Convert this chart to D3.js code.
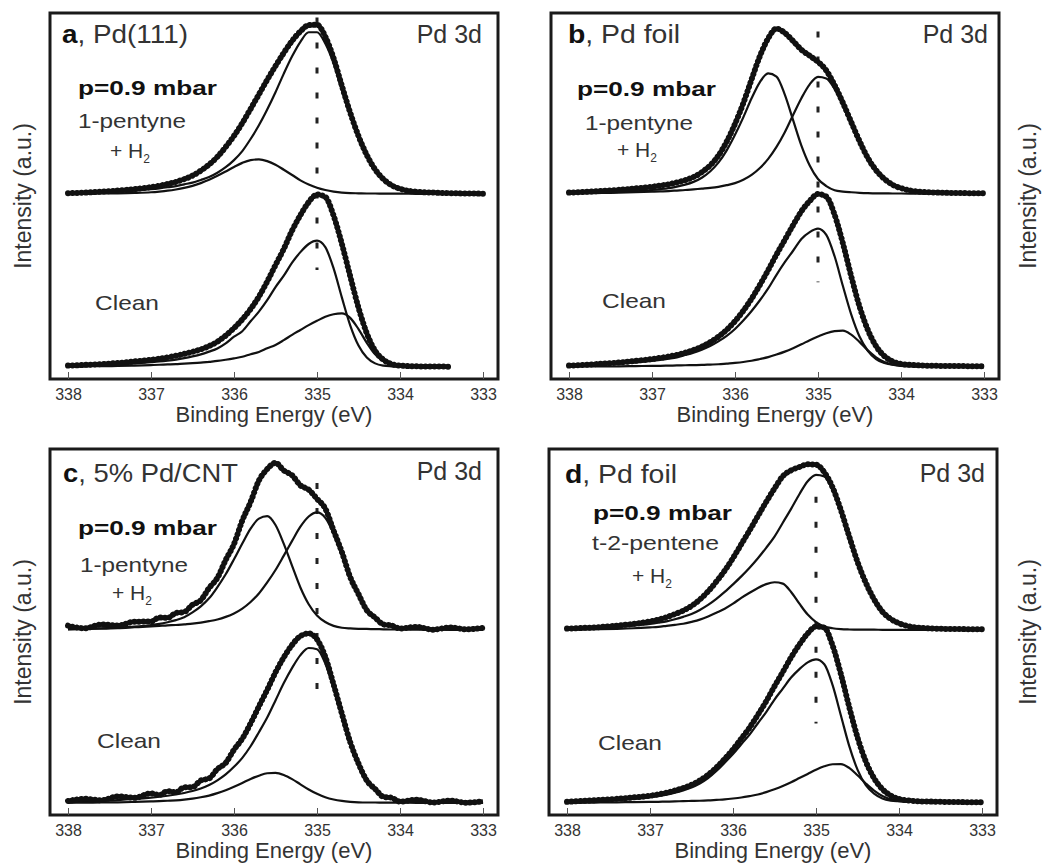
<!DOCTYPE html>
<html>
<head>
<meta charset="utf-8">
<script src="https://cdn.jsdelivr.net/npm/d3@7"></script>
<style>
  html, body { margin: 0; padding: 0; background: #fff; }
  svg { display: block; }
  text { font-family: "Liberation Sans", Arial, Helvetica, sans-serif; }
</style>
</head>
<body>
<svg id="chart" width="1042" height="867"></svg>
<script>
// binding energy grid (eV), shared by all spectra
const energy = [338.0, 337.8, 337.6, 337.4, 337.2, 337.0, 336.9, 336.8, 336.7, 336.6, 336.5, 336.4, 336.3, 336.2, 336.1, 336.0,
  335.9, 335.8, 335.7, 335.6, 335.5, 335.4, 335.3, 335.2, 335.1, 335.0, 334.9, 334.8, 334.7, 334.6, 334.5, 334.4, 334.3, 334.2, 334.1, 334.0,
  333.8, 333.6, 333.4, 333.2, 333.0];

const energyTicks = [338, 337, 336, 335, 334, 333];
const refEnergy = 335.0;

const panelIds = ["a", "b", "c", "d"];
const samples = ["Pd(111)", "Pd foil", "5% Pd/CNT", "Pd foil"];
const gases = ["1-pentyne", "1-pentyne", "1-pentyne", "t-2-pentene"];

// intensities (a.u.), "react" = p=0.9 mbar reaction mixture, "clean" = clean surface
// a, Pd(111)
const aReactData = [0.5, 0.8, 1.3, 2.0, 2.8, 4.0, 4.8, 5.8, 7.0, 8.6, 10.6, 13.5, 17.0, 21.5, 27.2, 33.6, 41, 49.2, 57.6, 66, 74, 81.6, 88.5, 94, 97.6, 97.8, 91, 78.5, 62.5, 47, 33.5, 22.5, 14.2, 8.6, 5.0, 3.0, 1.3, 0.8, 0.5, 0.3, 0.2];
const aReactMain = [0.6, 0.8, 1.1, 1.5, 2.0, 2.8, 3.3, 3.9, 4.6, 5.6, 6.6, 8.1, 9.8, 12.3, 15.5, 19.6, 24.8, 31.8, 39.7, 48.8, 58.8, 69.6, 79.6, 88, 93.5, 93.5, 87, 75.5, 60, 46, 33, 22.5, 14.5, 9, 5.5, 3.5, 1.5, 0.9, 0.6, 0.4, 0.3];
const aReactShift = [0.1, 0.2, 0.3, 0.4, 0.6, 1.0, 1.4, 1.9, 2.6, 3.5, 4.7, 6.3, 8.2, 10.5, 13, 15.6, 18, 19.6, 20, 19, 16.9, 14, 11, 7.9, 5.5, 3.6, 2.3, 1.4, 0.8, 0.5, 0.4, 0.3, 0.3, 0.2, 0.2, 0.2, 0.1, 0.1, 0.1, 0, 0];
const aCleanData = [0.8, 1.2, 1.7, 2.3, 3.2, 4.2, 4.8, 5.6, 6.5, 7.6, 8.8, 10.2, 12.1, 14.6, 18.2, 22.5, 27.5, 33.5, 40.7, 49.4, 58.9, 68.3, 78.9, 87.8, 95.3, 99.7, 98.3, 87.5, 71.1, 52.5, 34.3, 19.5, 9.4, 4.2, 1.7, 0.8, 0.4, 0.3, 0.2, null, null];
const aCleanMain = [0.6, 0.9, 1.2, 1.6, 2.1, 2.8, 3.2, 3.7, 4.3, 5.1, 6.1, 7.3, 8.9, 10.7, 13.6, 17.5, 20.7, 26.4, 32, 38.6, 46.2, 52.8, 60.3, 66.4, 71.1, 73, 69.3, 57, 40.1, 24.1, 12.4, 5.5, 2.1, 0.8, 0.4, 0.2, 0.1, 0.1, 0.1, null, null];
const aCleanShoulder = [0.3, 0.4, 0.5, 0.6, 0.8, 1.1, 1.3, 1.5, 1.7, 2.0, 2.2, 2.5, 3.0, 3.5, 4.2, 5.0, 5.9, 7.4, 8.7, 10.8, 12.7, 15.5, 18.6, 21.4, 24.2, 26.7, 29, 30.5, 31, 28.4, 21.9, 14, 7.3, 3.4, 1.3, 0.5, 0.2, 0.1, 0.1, null, null];

// b, Pd foil
const bReactData = [0.8, 1.3, 1.8, 2.4, 3.2, 4.2, 4.9, 5.6, 6.7, 8.0, 9.8, 12.6, 16.5, 22.2, 30.3, 40.5, 52.5, 66.3, 79.7, 90, 95.6, 93.1, 88.4, 83.4, 79.9, 76.4, 71.4, 62.9, 52.7, 41.6, 30.6, 20.9, 13.7, 8.7, 5.3, 3.4, 1.4, 0.9, 0.6, 0.5, 0.4];
const bReactShift = [0.5, 0.7, 0.9, 1.2, 1.6, 2.3, 2.8, 3.4, 4.3, 5.4, 7.0, 9.4, 13, 18.1, 25.2, 34.2, 44.3, 55.3, 64.7, 69.7, 67.9, 57.4, 42.7, 28, 16.5, 8.7, 4.6, 2.2, 1.4, 1.0, 0.7, 0.5, 0.4, 0.4, 0.3, 0.3, 0.2, 0.2, 0.1, 0.1, 0.1];
const bReactMain = [0.3, 0.4, 0.6, 0.8, 1.0, 1.3, 1.5, 1.7, 2.0, 2.3, 2.7, 3.1, 3.5, 4.1, 5.1, 6.3, 8.2, 11, 15, 20.3, 27.2, 35.7, 45.7, 55.4, 63.4, 67.7, 66.8, 60.7, 51.3, 40.6, 29.9, 20.4, 13.3, 8.3, 5, 3.1, 1.2, 0.7, 0.5, 0.4, 0.3];
const bCleanData = [0.8, 1.3, 1.9, 2.6, 3.5, 4.6, 5.3, 6.1, 7.0, 8.3, 9.8, 11.8, 14.3, 17.5, 21.5, 26.5, 32.5, 39.5, 47.5, 56, 65, 73.5, 82, 90, 96, 100, 98.5, 88, 71.5, 52.5, 35, 21.5, 12, 6.3, 3.2, 1.8, 1.0, 0.7, 0.6, 0.5, 0.4];
const bCleanMain = [0.8, 1.1, 1.5, 2.0, 2.6, 3.5, 4.1, 4.8, 5.6, 6.9, 8.3, 10.0, 12.1, 14.8, 18, 22, 26.9, 32.4, 38.6, 45.4, 53.3, 60.6, 67.2, 74, 78, 80, 76.4, 64, 46.8, 30.4, 17.6, 9.4, 4.6, 2.4, 1.3, 0.9, 0.6, 0.5, 0.4, 0.3, 0.3];
const bCleanShoulder = [0.2, 0.3, 0.3, 0.4, 0.5, 0.7, 0.7, 0.8, 0.9, 1.0, 1.1, 1.2, 1.4, 1.6, 2.0, 2.4, 2.9, 3.6, 4.6, 5.7, 7.2, 8.9, 10.9, 13.1, 15.5, 17.6, 19.5, 20.7, 21, 18.7, 14.5, 9.6, 5.6, 2.9, 1.4, 0.7, 0.3, 0.2, 0.2, 0.1, 0.1];

// c, 5% Pd/CNT
const cReactData = [2.5, 1.0, 3.2, 2.6, 4.8, 4.9, 7.2, 7.0, 9.8, 10.4, 14.6, 17.2, 24.3, 30.1, 40.5, 49.7, 63.3, 74, 86.4, 93, 96.6, 92.2, 89.4, 83.6, 81.1, 75.8, 70.2, 57.5, 45, 30.6, 20.7, 11.4, 7.2, 3.2, 2.6, 0.9, 1.8, 0.2, 1.5, 0.4, 1.2];
const cReactShift = [0.5, 0.7, 1.0, 1.4, 1.9, 2.8, 3.5, 4.5, 5.7, 7.4, 10.2, 13.7, 18.3, 24.8, 32.2, 40.9, 50, 58.6, 64.4, 65.8, 60.7, 49.8, 37.1, 24.6, 14.9, 8.4, 4.6, 2.4, 1.3, 0.9, 0.7, 0.6, 0.5, 0.4, 0.3, 0.3, 0.2, 0.2, 0.1, 0.1, 0.1];
const cReactMain = [0.4, 0.6, 0.8, 1.1, 1.6, 2.1, 2.4, 2.7, 2.9, 3.3, 3.7, 4.3, 5.1, 6.1, 7.6, 9.6, 12.4, 16.2, 21.1, 27.5, 34.7, 43, 51.5, 59.7, 65.6, 68, 64.9, 55.8, 43, 30.4, 19.4, 11.3, 6.3, 3.4, 1.9, 1.1, 0.7, 0.5, 0.4, 0.3, 0.3];
const cCleanData = [1.2, 2.4, 1.6, 3.8, 3.0, 5.6, 4.6, 6.9, 6.2, 9.1, 9.2, 13.0, 14.2, 19.6, 23.2, 30.8, 37.2, 46, 55.8, 65.4, 75.5, 84.2, 91.4, 96.5, 98, 94.6, 84.5, 68.5, 51.6, 35.2, 22.8, 13, 8.1, 3.6, 3.0, 0.8, 1.9, 0.3, 1.4, 0.2, 0.9];
const cCleanMain = [0.7, 1.0, 1.3, 1.7, 2.3, 3.1, 3.6, 4.2, 4.9, 5.8, 6.9, 8.4, 10.4, 13.1, 16.5, 20.9, 26.1, 32.8, 40.9, 49.4, 59.3, 69.3, 78.1, 85.5, 89.6, 88.9, 80.6, 66.2, 50, 34.7, 21.9, 13, 7.2, 4.1, 2.3, 1.4, 0.9, 0.6, 0.5, 0.4, 0.4];
const cCleanShift = [0.1, 0.2, 0.3, 0.4, 0.6, 0.9, 1.1, 1.3, 1.5, 1.9, 2.5, 3.3, 4.3, 5.7, 7.4, 9.4, 11.6, 13.9, 15.8, 17.2, 17.4, 16.2, 13.8, 10.8, 7.8, 5.3, 3.3, 2.0, 1.2, 0.7, 0.4, 0.3, 0.3, 0.2, 0.2, 0.2, 0.1, 0.1, 0.1, 0, 0];

// d, Pd foil (t-2-pentene)
const dReactData = [0.8, 1.2, 1.7, 2.5, 3.5, 5.0, 6.0, 7.4, 9.2, 11.2, 13.9, 17.6, 22.3, 28.0, 34.3, 41.6, 49.6, 57.6, 65.9, 74.1, 81.8, 88.9, 92.3, 94.2, 95.8, 95.6, 91.2, 82.4, 69.3, 54.1, 39.4, 27.3, 17.7, 10.6, 6.4, 3.9, 1.5, 0.9, 0.6, 0.5, 0.4];
const dReactMain = [0.6, 0.9, 1.2, 1.8, 2.5, 3.5, 4.2, 5.0, 6.2, 7.6, 9.2, 11.6, 14.5, 18.0, 22, 26.4, 31, 36, 41.5, 47.5, 54, 62, 70, 78.5, 86, 89.7, 88.8, 81.2, 68.6, 53.7, 39.1, 27, 17.4, 10.4, 6.3, 3.8, 1.4, 0.9, 0.6, 0.5, 0.4];
const dReactShift = [0.2, 0.3, 0.5, 0.7, 1.0, 1.5, 1.8, 2.4, 3.0, 3.6, 4.7, 6.0, 7.8, 10.0, 12.3, 15.2, 18.6, 21.5, 24.3, 26.5, 27.6, 26.8, 22, 15.2, 8.9, 4.6, 2.1, 1.0, 0.5, 0.3, 0.2, 0.2, 0.2, 0.1, 0.1, 0.1, 0.1, 0, 0, 0, 0];
const dCleanData = [0.7, 1.2, 1.8, 2.4, 3.2, 4.2, 5.0, 6.0, 7.2, 8.7, 10.5, 13.0, 16.3, 20.5, 25.5, 31.0, 37.2, 43.6, 51, 58.8, 67.5, 75.7, 84.2, 91.6, 98, 102, 101.4, 91, 74.5, 55.5, 38, 24, 14.3, 8, 4.3, 2.4, 1.1, 0.8, 0.6, 0.5, 0.4];
const dCleanMain = [0.5, 0.8, 1.2, 1.7, 2.3, 3.2, 3.9, 4.8, 5.9, 7.3, 9.0, 11.3, 14.4, 18.5, 23.3, 28.3, 34, 39.5, 46.1, 52.5, 59.8, 66.1, 72.5, 77.4, 81.3, 83, 80.2, 68.1, 50.6, 33, 19.3, 10.3, 5.4, 2.6, 1.4, 1.0, 0.6, 0.5, 0.4, 0.3, 0.3];
const dCleanShoulder = [0.2, 0.2, 0.3, 0.4, 0.5, 0.6, 0.7, 0.8, 0.9, 1.1, 1.2, 1.3, 1.5, 1.8, 2.1, 2.6, 3.2, 4.0, 4.9, 6.3, 7.9, 9.8, 12, 14.4, 16.8, 19.2, 21.2, 22.4, 22.5, 20.3, 16, 11.3, 7.1, 4, 2.1, 1.1, 0.5, 0.3, 0.2, 0.1, 0.1];

// extent of the dashed 335.0 eV marker, in intensity units
const refExtent = [[56, 202], [49, 194], [60, 185], [46, 177]];

const W = 448, H = 366;
const stackOffset = 100;
const ink = "#111";
const textGray = "#333";

const panels = [
  { x: 50, y: 13, react: [aReactData, aReactMain, aReactShift], clean: [aCleanData, aCleanMain, aCleanShoulder],
    yTitleX: 31,
    pos: { title: [12, 30, 126], pd: [432, 30], p: [28, 82], gas: [28, 115, 108], h2: [60, 145], clean: [45, 297] } },
  { x: 551, y: 13, react: [bReactData, bReactMain, bReactShift], clean: [bCleanData, bCleanMain, bCleanShoulder],
    yTitleX: 1036,
    pos: { title: [17, 30, 112], pd: [437, 30], p: [26, 83], gas: [34, 117, 108], h2: [66, 144], clean: [51, 295] } },
  { x: 50, y: 449, react: [cReactData, cReactMain, cReactShift], clean: [cCleanData, cCleanMain, cCleanShift],
    yTitleX: 31,
    pos: { title: [13, 33, 175], pd: [432, 31], p: [28, 86], gas: [30, 123, 108], h2: [62, 151], clean: [47, 299] } },
  { x: 549, y: 449, react: [dReactData, dReactMain, dReactShift], clean: [dCleanData, dCleanMain, dCleanShoulder],
    yTitleX: 1036,
    pos: { title: [16, 34, 112], pd: [436, 33], p: [44, 71], gas: [43, 101, 127], h2: [83, 134], clean: [49, 301] } }
];

const x = d3.scaleLinear().domain([338, 333]).range([18, 433]);
const y = d3.scaleLinear().domain([0, 200]).range([354, 8]);

const line = d3.line()
  .defined(d => d[1] != null)
  .x(d => x(d[0]))
  .y(d => y(d[1]))
  .curve(d3.curveMonotoneX);

function toPoints(values, offset) {
  return energy.map((e, i) => [e, values[i] == null ? null : values[i] + offset]);
}

const svg = d3.select("#chart");
svg.append("rect").attr("width", 1042).attr("height", 867).attr("fill", "#fff");

panels.forEach((p, i) => {
  const g = svg.append("g").attr("transform", `translate(${p.x},${p.y})`);

  // dashed marker at 335 eV
  g.append("line")
    .attr("x1", x(refEnergy)).attr("x2", x(refEnergy))
    .attr("y1", y(refExtent[i][1])).attr("y2", y(refExtent[i][0]))
    .attr("stroke", "#222").attr("stroke-width", 3)
    .attr("stroke-dasharray", "6 19");

  [[p.clean, 0], [p.react, stackOffset]].forEach(([spec, off]) => {
    const [data, ...comps] = spec;
    comps.forEach(c => {
      g.append("path").attr("d", line(toPoints(c, off)))
        .attr("fill", "none").attr("stroke", ink).attr("stroke-width", 2.2);
    });
    // measured points: thick beaded trace
    const pts = toPoints(data, off);
    g.append("path").attr("d", line(pts))
      .attr("fill", "none").attr("stroke", ink).attr("stroke-width", 4.2);
    g.append("path").attr("d", line(pts))
      .attr("fill", "none").attr("stroke", ink).attr("stroke-width", 6)
      .attr("stroke-linecap", "round").attr("stroke-dasharray", "0.01 4.5");
  });

  // frame
  g.append("rect").attr("width", W).attr("height", H)
    .attr("fill", "none").attr("stroke", "#1a1a1a").attr("stroke-width", 3);

  // bottom axis, ticks pointing inwards
  const ax = g.append("g").attr("transform", `translate(0,${H})`)
    .call(d3.axisBottom(x).tickValues(energyTicks).tickFormat(d3.format("d")).tickSize(-7).tickPadding(10));
  ax.select(".domain").remove();
  ax.selectAll(".tick line").attr("stroke", "#555").attr("stroke-width", 1);
  ax.selectAll(".tick text").attr("font-size", 16).attr("fill", textGray);

  g.append("text")
    .attr("x", W / 2).attr("y", H + 43)
    .attr("text-anchor", "middle").attr("font-size", 22).attr("fill", textGray)
    .text("Binding Energy (eV)");

  // panel labels
  const pos = p.pos;
  const title = g.append("text")
    .attr("x", pos.title[0]).attr("y", pos.title[1])
    .attr("font-size", 26).attr("fill", textGray)
    .attr("textLength", pos.title[2]).attr("lengthAdjust", "spacingAndGlyphs");
  title.append("tspan").attr("font-weight", "bold").attr("fill", ink).text(panelIds[i]);
  title.append("tspan").text(", " + samples[i]);

  g.append("text")
    .attr("x", pos.pd[0]).attr("y", pos.pd[1])
    .attr("text-anchor", "end").attr("font-size", 25).attr("fill", textGray)
    .text("Pd 3d");

  g.append("text")
    .attr("x", pos.p[0]).attr("y", pos.p[1])
    .attr("font-size", 21).attr("font-weight", "bold").attr("fill", ink)
    .attr("textLength", 139).attr("lengthAdjust", "spacingAndGlyphs")
    .text("p=0.9 mbar");

  g.append("text")
    .attr("x", pos.gas[0]).attr("y", pos.gas[1])
    .attr("font-size", 21).attr("fill", textGray)
    .attr("textLength", pos.gas[2]).attr("lengthAdjust", "spacingAndGlyphs")
    .text(gases[i]);

  const h2 = g.append("text")
    .attr("x", pos.h2[0]).attr("y", pos.h2[1])
    .attr("font-size", 21).attr("fill", textGray)
    .text("+ H");
  h2.append("tspan").attr("font-size", 12).attr("dy", 5).text("2");

  g.append("text")
    .attr("x", pos.clean[0]).attr("y", pos.clean[1])
    .attr("font-size", 21).attr("fill", textGray)
    .attr("textLength", 64).attr("lengthAdjust", "spacingAndGlyphs")
    .text("Clean");

  // y title
  const cy = p.y + H / 2;
  svg.append("text")
    .attr("transform", `translate(${p.yTitleX},${cy}) rotate(-90)`)
    .attr("text-anchor", "middle").attr("font-size", 23).attr("fill", textGray)
    .text("Intensity (a.u.)");
});
</script>
</body>
</html>
